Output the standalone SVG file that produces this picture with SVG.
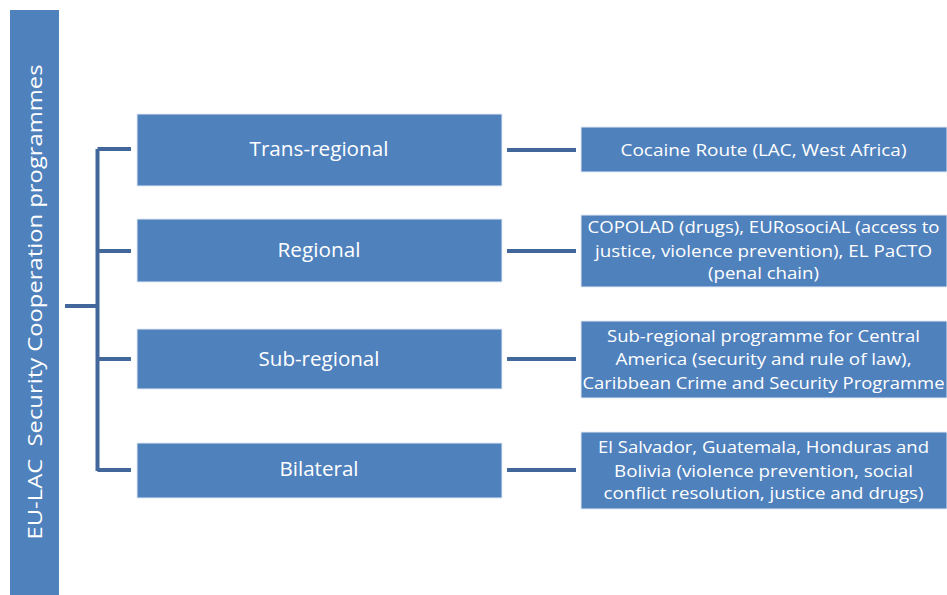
<svg xmlns="http://www.w3.org/2000/svg" width="947" height="595" viewBox="0 0 947 595">
<style>
.box{fill:#4F81BD;stroke:#E3EAF4;stroke-width:1}
.t{fill:#FFFFFF;font-family:"Open Sans","Liberation Sans",sans-serif;text-anchor:middle}
.m{font-size:20px}
.r{font-size:17px}
.c{stroke:#41679B;stroke-width:4;fill:none;stroke-linecap:butt}
</style>
<rect width="947" height="595" fill="#FFFFFF"/>
<g id="root">
<rect x="10" y="10" width="49" height="590" fill="#4F81BD"/>
<text class="t m" transform="translate(42,302) rotate(-90)" textLength="475" lengthAdjust="spacingAndGlyphs" xml:space="preserve">EU-LAC  Security Cooperation programmes</text>
</g>
<g id="connectors">
<path class="c" d="M65 306 H97.5 M97.5 149 V471 M97.5 149 H131 M97.5 251 H131 M97.5 359 H131 M97.5 470 H131"/>
<path class="c" d="M507 150 H576 M507 251 H576 M507 359 H576 M507 470 H576"/>
</g>
<g id="trans-regional">
<rect class="box" x="137" y="114" width="365" height="72"/>
<text class="t m" x="319" y="156" textLength="139" lengthAdjust="spacingAndGlyphs">Trans-regional</text>
</g>
<g id="regional">
<rect class="box" x="137" y="219" width="365" height="63"/>
<text class="t m" x="319" y="257" textLength="83" lengthAdjust="spacingAndGlyphs">Regional</text>
</g>
<g id="sub-regional">
<rect class="box" x="137" y="329" width="365" height="60"/>
<text class="t m" x="319" y="366" textLength="121" lengthAdjust="spacingAndGlyphs">Sub-regional</text>
</g>
<g id="bilateral">
<rect class="box" x="137" y="443" width="365" height="55"/>
<text class="t m" x="319" y="476" textLength="79" lengthAdjust="spacingAndGlyphs">Bilateral</text>
</g>
<g id="cocaine-route">
<rect class="box" x="581" y="127" width="366" height="45"/>
<text class="t r" x="763.5" y="156" textLength="286" lengthAdjust="spacingAndGlyphs">Cocaine Route (LAC, West Africa)</text>
</g>
<g id="regional-programmes">
<rect class="box" x="581" y="215" width="366" height="72"/>
<text class="t r" x="763.5" y="233" textLength="352" lengthAdjust="spacingAndGlyphs">COPOLAD (drugs), EURosociAL (access to</text>
<text class="t r" x="763.5" y="257" textLength="337" lengthAdjust="spacingAndGlyphs">justice, violence prevention), EL PaCTO</text>
<text class="t r" x="763.5" y="279" textLength="111" lengthAdjust="spacingAndGlyphs">(penal chain)</text>
</g>
<g id="sub-regional-programmes">
<rect class="box" x="581" y="321" width="366" height="77"/>
<text class="t r" x="763.5" y="342" textLength="313" lengthAdjust="spacingAndGlyphs">Sub-regional programme for Central</text>
<text class="t r" x="763.5" y="365" textLength="296" lengthAdjust="spacingAndGlyphs">America (security and rule of law),</text>
<text class="t r" x="763.5" y="389" textLength="362" lengthAdjust="spacingAndGlyphs">Caribbean Crime and Security Programme</text>
</g>
<g id="bilateral-programmes">
<rect class="box" x="581" y="432" width="366" height="77"/>
<text class="t r" x="763.5" y="453" textLength="331" lengthAdjust="spacingAndGlyphs">El Salvador, Guatemala, Honduras and</text>
<text class="t r" x="763.5" y="477" textLength="299" lengthAdjust="spacingAndGlyphs">Bolivia (violence prevention, social</text>
<text class="t r" x="763.5" y="499" textLength="320" lengthAdjust="spacingAndGlyphs">conflict resolution, justice and drugs)</text>
</g>
</svg>
